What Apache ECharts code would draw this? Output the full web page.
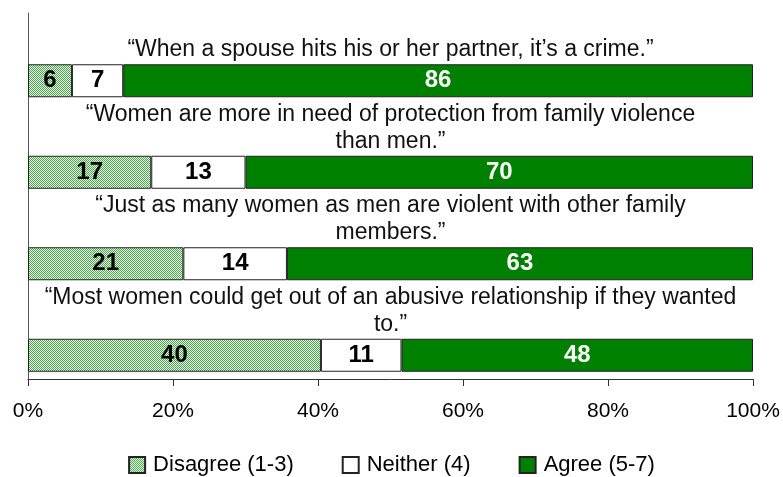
<!DOCTYPE html>
<html>
<head>
<meta charset="utf-8">
<script src="https://cdn.jsdelivr.net/npm/echarts@6/dist/echarts.min.js"></script>
<style>
    html, body { margin: 0; padding: 0; background: #fff; }
    #chart { width: 783px; height: 477px; }
</style>
</head>
<body>
<div id="chart"></div>
<script>
    var statements = [
        '\u201CWhen a spouse hits his or her partner, it\u2019s a crime.\u201D',
        '\u201CWomen are more in need of protection from family violence\nthan men.\u201D',
        '\u201CJust as many women as men are violent with other family\nmembers.\u201D',
        '\u201CMost women could get out of an abusive relationship if they wanted\nto.\u201D'
    ];
    var disagree = [6, 17, 21, 40];
    var neither = [7, 13, 14, 11];
    var agree = [86, 70, 63, 48];
    var seriesNames = ['Disagree (1-3)', 'Neither (4)', 'Agree (5-7)'];
    var xTicks = [0, 20, 40, 60, 80, 100];

    var FONT = "'Liberation Sans', Arial, sans-serif";
    var BAR_H = 33;

    // 100% stacked: each row is scaled by its own total
    function toPct(arr) {
        return arr.map(function (v, i) {
            var total = disagree[i] + neither[i] + agree[i];
            return v / total * 100;
        });
    }

    // hatched fill for the disagree segment
    function hatch() {
        var c = document.createElement('canvas');
        c.width = 4; c.height = 4;
        var g = c.getContext('2d');
        g.fillStyle = '#eef7ee';
        g.fillRect(0, 0, 4, 4);
        g.fillStyle = '#48a848';
        for (var i = 0; i < 4; i++) {
            g.fillRect(i, i, 1, 1);
            g.fillRect((i + 2) % 4, i, 1, 1);
        }
        return c;
    }

    var raw = [disagree, neither, agree];
    var fills = [{ image: hatch(), repeat: 'repeat' }, '#ffffff', '#008000'];
    var labelColors = ['#000', '#000', '#fff'];

    var barSeries = seriesNames.map(function (name, k) {
        return {
            name: name,
            type: 'bar',
            stack: 'all',
            xAxisIndex: 1,
            yAxisIndex: 1,
            barWidth: BAR_H,
            itemStyle: {
                color: fills[k],
                borderColor: '#222',
                borderWidth: 1
            },
            label: {
                show: true,
                position: 'inside',
                color: labelColors[k],
                fontFamily: FONT,
                fontWeight: 'bold',
                fontSize: 24,
                formatter: function (p) { return raw[k][p.dataIndex]; }
            },
            emphasis: { disabled: true },
            data: toPct(raw[k])
        };
    });

    var myChart = echarts.init(document.getElementById('chart'));
    var option = {
        animation: false,
        textStyle: { fontFamily: FONT },
        legend: {
            left: 'center',
            top: 449,
            itemWidth: 16,
            itemHeight: 16,
            itemGap: 48,
            icon: 'rect',
            data: seriesNames,
            textStyle: { fontSize: 22, color: '#000', fontFamily: FONT, padding: [0, 0, 0, 3] }
        },
        grid: [
            { left: 28, right: 30, top: 13, bottom: 98 },
            { left: 28, right: 30, top: 35, bottom: 76 }
        ],
        xAxis: [
            {
                type: 'value',
                gridIndex: 0,
                min: xTicks[0],
                max: xTicks[xTicks.length - 1],
                interval: 20,
                axisLine: { show: true, lineStyle: { color: '#333', width: 1 } },
                axisTick: { show: true, length: 7, lineStyle: { color: '#333' } },
                splitLine: { show: false },
                axisLabel: {
                    formatter: '{value}%',
                    color: '#000',
                    fontSize: 21,
                    fontFamily: FONT,
                    margin: 22
                }
            },
            {
                type: 'value',
                gridIndex: 1,
                min: 0,
                max: 100,
                show: false
            }
        ],
        yAxis: [
            {
                type: 'category',
                gridIndex: 0,
                data: [''],
                axisLine: { show: true, lineStyle: { color: '#555', width: 1 } },
                axisTick: { show: false },
                axisLabel: { show: false }
            },
            {
                type: 'category',
                gridIndex: 1,
                inverse: true,
                data: statements,
                show: false
            }
        ],
        series: barSeries.concat([{
            type: 'custom',
            xAxisIndex: 1,
            yAxisIndex: 1,
            silent: true,
            data: statements.map(function (s, i) { return [50, i]; }),
            renderItem: function (params, api) {
                var p = api.coord([api.value(0), api.value(1)]);
                return {
                    type: 'text',
                    x: p[0],
                    y: p[1] - BAR_H / 2 - 1,
                    style: {
                        text: statements[params.dataIndex],
                        fill: '#111',
                        font: '23px ' + FONT,
                        align: 'center',
                        verticalAlign: 'bottom',
                        lineHeight: 27
                    }
                };
            }
        }])
    };
    myChart.setOption(option);
</script>
</body>
</html>
